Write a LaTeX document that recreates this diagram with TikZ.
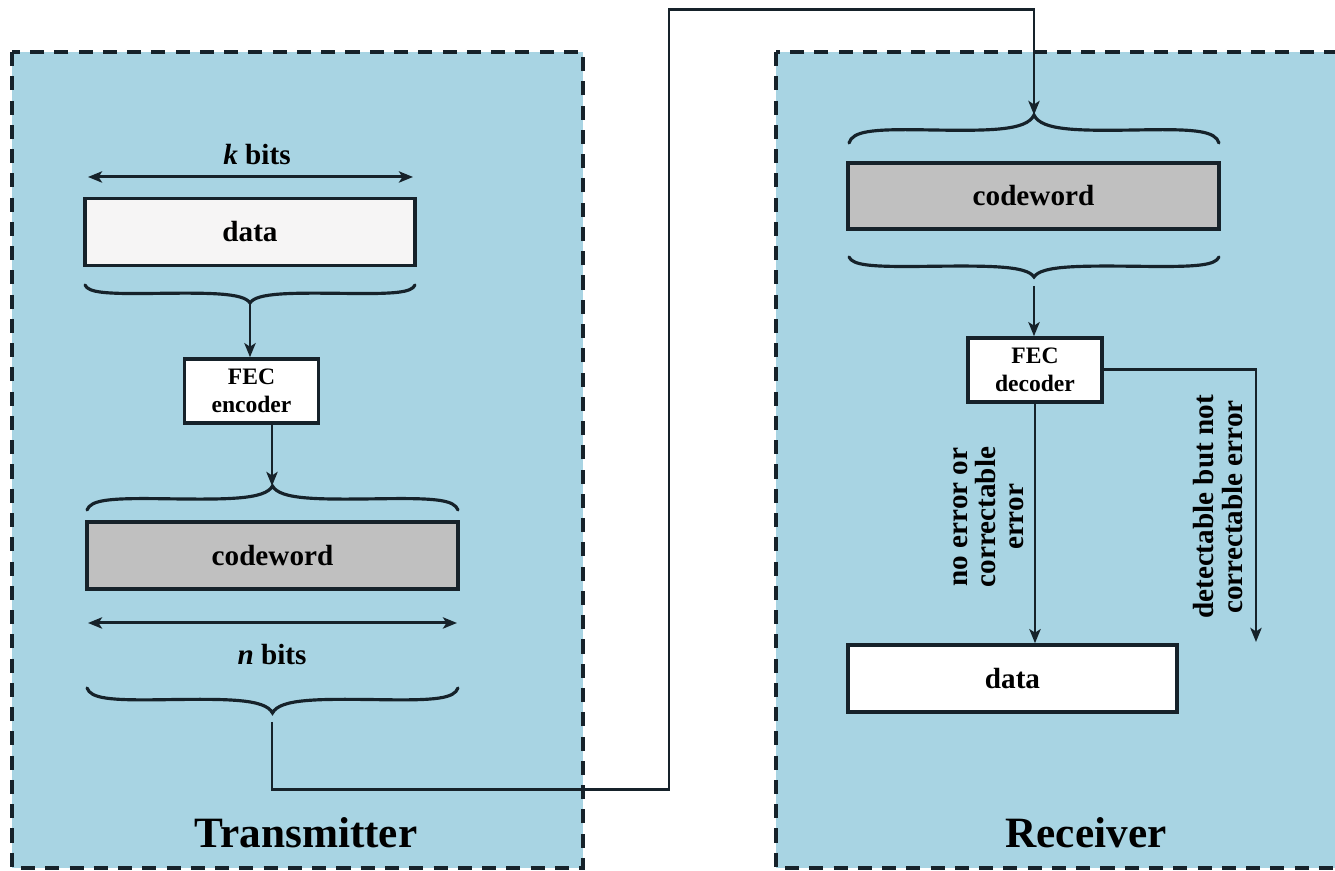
\documentclass[tikz,border=0pt]{standalone}
\usepackage{fontspec}
\setmainfont{Liberation Serif}
\usetikzlibrary{arrows.meta}
\definecolor{panelblue}{RGB}{168,212,227}
\definecolor{ink}{RGB}{22,34,42}
\definecolor{cwgray}{RGB}{192,192,192}
\definecolor{datafill}{RGB}{246,245,245}
\tikzset{
  mybrace/.pic={\draw[draw=ink, line width=0.9pt, line cap=round]
    (-1,0) .. controls (-0.98,0.42) and (-0.88,0.5) .. (-0.6,0.47)
    .. controls (-0.25,0.43) and (-0.04,0.42) .. (0,1)
    .. controls (0.04,0.42) and (0.25,0.43) .. (0.6,0.47)
    .. controls (0.88,0.5) and (0.98,0.42) .. (1,0);}
}
\begin{document}
\begin{tikzpicture}[x=0.01cm,y=-0.01cm,
  panel/.style={fill=panelblue, draw=ink, line width=0.9pt, dash pattern=on 4pt off 2.9pt},
  box/.style={draw=ink, line width=1pt, inner sep=0pt, font=\fontsize{8.3}{9}\selectfont\bfseries},
  fecbox/.style={draw=ink, fill=white, line width=1pt, inner sep=0pt, minimum width=1.34cm, minimum height=0.64cm, align=center, font=\fontsize{6.7}{8}\selectfont\bfseries},
  conn/.style={draw=ink, line width=0.85pt},
  arr/.style={conn, -{Stealth[length=4pt,width=3.2pt,inset=1pt]}},
  darr/.style={conn, {Stealth[length=4pt,width=3.2pt,inset=1pt]}-{Stealth[length=4pt,width=3.2pt,inset=1pt]}},
  lbl/.style={font=\fontsize{8.3}{8}\selectfont\bfseries, inner sep=0pt, align=center},
  paneltitle/.style={font=\fontsize{12.3}{14}\selectfont\bfseries, inner sep=0pt}
]
\path[use as bounding box] (0,0) rectangle (1335,871);
\clip (0,0) rectangle (1335,871);

% panels
\draw[panel] (12,52) rectangle (583,868);
\draw[panel] (776,52) rectangle (1345,868);

% ---- Transmitter ----
\node[lbl] (kbits) at (257,155) {\textit{k} bits};
\coordinate (kl) at (88,177);
\coordinate (kr) at (413,177);
\draw[darr] (kl) -- (kr);
\node[box, fill=datafill, minimum width=3.30cm, minimum height=0.67cm] (data1) at (250,232) {data};
\pic[xscale=165,yscale=18] at (250,285) {mybrace};
\coordinate (b1) at (250,303);
\node[fecbox] (enc) at (251.5,391) {FEC\\encoder};
\draw[arr] (b1) -- (b1 |- enc.north);
\coordinate (b2) at (272,486);
\draw[arr] (b2 |- enc.south) -- (b2);
\pic[xscale=185.5,yscale=-24] at (272.5,510) {mybrace};
\node[box, fill=cwgray, minimum width=3.71cm, minimum height=0.67cm] (cw1) at (272.5,555.5) {codeword};
\coordinate (nl) at (88,623);
\coordinate (nr) at (457,623);
\draw[darr] (nl) -- (nr);
\node[lbl] (nbits) at (272,655) {\textit{n} bits};
\pic[xscale=185.5,yscale=25] at (272.5,688) {mybrace};
\coordinate (b3) at (272,722);
\coordinate (c1) at (669,790);
\coordinate (c2) at (669,10);
\coordinate (b4) at (1034,115);
\draw[arr] (b3) |- (c1) -- (c2) -| (b4);
\node[paneltitle] (tx) at (306,833) {Transmitter};

% ---- Receiver ----
\pic[xscale=185,yscale=-28] at (1034,143) {mybrace};
\node[box, fill=cwgray, minimum width=3.71cm, minimum height=0.66cm] (cw2) at (1033.5,196) {codeword\hspace{0.2cm}};
\pic[xscale=185,yscale=20] at (1034,257) {mybrace};
\coordinate (b5) at (1034,286);
\node[fecbox] (dec) at (1035,370) {FEC\\decoder};
\draw[arr] (b5) -- (b5 |- dec.north);
\node[box, fill=white, minimum width=3.29cm, minimum height=0.67cm] (data2) at (1012.5,678.5) {data};
\draw[arr] (dec.south) -- (dec.south |- data2.north);
\coordinate (e1) at (1256,642);
\draw[arr] (dec.east) -| (e1);
\node[lbl, rotate=90] (lab1) at (989,517) {no error or\\correctable\\error};
\node[lbl, rotate=90] (lab2) at (1218,507) {detectable but not\\correctable error};
\node[paneltitle] (rx) at (1086,833) {Receiver};
\end{tikzpicture}
\end{document}
